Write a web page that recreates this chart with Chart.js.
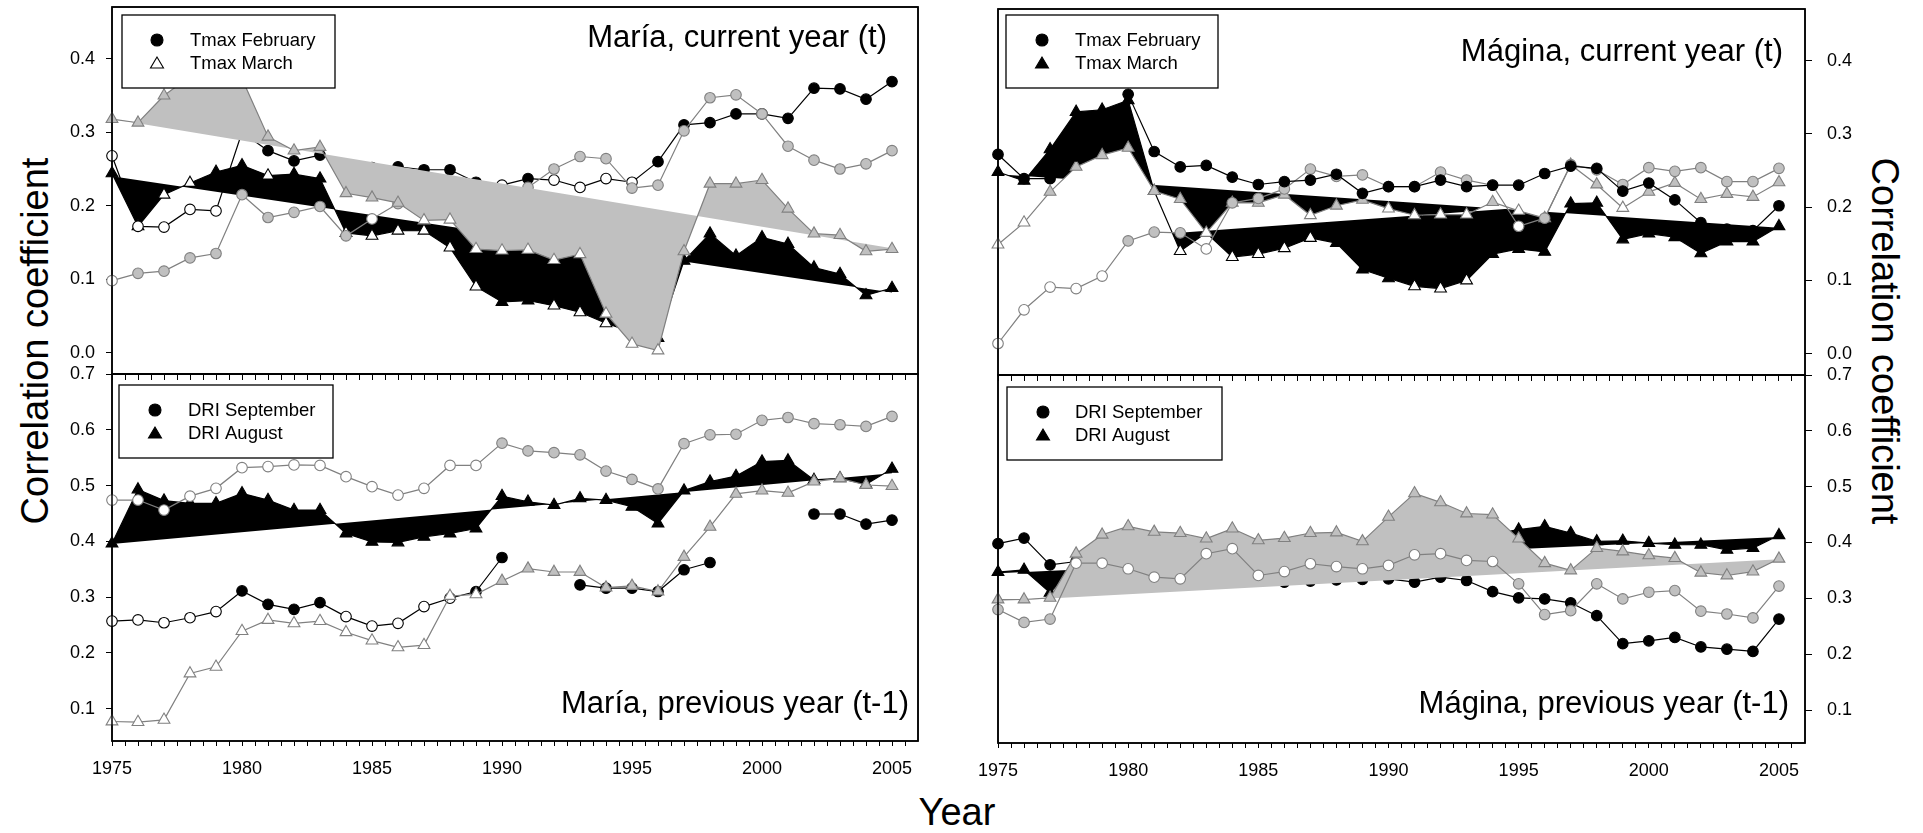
<!DOCTYPE html>
<html>
<head>
<meta charset="utf-8">
<script src="https://cdn.jsdelivr.net/npm/chart.js@4.4.0/dist/chart.umd.min.js"></script>
<style>
  html, body { margin: 0; padding: 0; background: #fff; }
  body { width: 1923px; height: 833px; position: relative; overflow: hidden; font-family: 'Liberation Sans', Arial, sans-serif; }
  canvas { position: absolute; }
  .lab { position: absolute; font-size: 38px; white-space: nowrap; color: #000; }
</style>
</head>
<body>
<div class="lab" style="left:35px;top:341px;transform:translate(-50%,-50%) rotate(-90deg)">Correlation coefficient</div>
<div class="lab" style="left:1884px;top:341px;transform:translate(-50%,-50%) rotate(90deg)">Correlation coefficient</div>
<div class="lab" style="left:957px;top:812px;transform:translate(-50%,-50%)">Year</div>
<script>
const years = [1975, 1976, 1977, 1978, 1979, 1980, 1981, 1982, 1983, 1984, 1985, 1986, 1987, 1988, 1989, 1990,
    1991, 1992, 1993, 1994, 1995, 1996, 1997, 1998, 1999, 2000, 2001, 2002, 2003, 2004, 2005];
const xLabelYears = [1975, 1980, 1985, 1990, 1995, 2000, 2005];
const topTicks = [0.0, 0.1, 0.2, 0.3, 0.4];
const bottomTicks = [0.1, 0.2, 0.3, 0.4, 0.5, 0.6, 0.7];

// series "1" = black markers, series "2" = grey markers; Sig: 1 = filled marker, 0 = open marker
// María, current year (t)
const mariaCurFeb1 = [.268, .172, .171, .195, .193, .300, .275, .261, .269, .256, .252, .253, .249, .249, .232, .228,
    .237, .235, .225, .237, .232, .260, .310, .313, .325, .325, .319, .360, .359, .345, .369];
const mariaCurFeb1Sig = [0, 0, 0, 0, 0, 1, 1, 1, 1, 1, 1, 1, 1, 1, 1, 0, 1, 0, 0, 0, 0, 1, 1, 1, 1, 1, 1, 1, 1, 1, 1];
const mariaCurFeb2 = [.098, .108, .111, .129, .135, .215, .184, .191, .199, .159, .182, .203, .210, .215, .218, .220,
    .225, .250, .267, .264, .224, .228, .302, .347, .351, .325, .281, .262, .250, .257, .275];
const mariaCurFeb2Sig = [0, 1, 1, 1, 1, 1, 1, 1, 1, 1, 0, 1, 1, 1, 1, 1, 1, 1, 1, 1, 1, 1, 1, 1, 1, 1, 1, 1, 1, 1, 1];
const mariaCurMar1 = [.244, .172, .215, .231, .246, .255, .241, .243, .237, .163, .159, .166, .166, .143, .090, .069,
    .071, .064, .055, .040, .028, .020, .125, .162, .132, .157, .148, .116, .107, .078, .088];
const mariaCurMar1Sig = [1, 0, 0, 0, 1, 1, 0, 1, 1, 0, 0, 0, 0, 0, 0, 1, 1, 0, 0, 0, 1, 1, 1, 1, 1, 1, 1, 1, 1, 1, 1];
const mariaCurMar2 = [.318, .313, .350, .376, .390, .373, .294, .275, .280, .217, .211, .204, .180, .181, .141, .139,
    .140, .126, .134, .053, .012, .003, .138, .230, .230, .235, .196, .162, .160, .138, .141];
const mariaCurMar2Sig = [1, 1, 1, 1, 1, 1, 1, 1, 1, 1, 1, 1, 0, 0, 0, 0, 0, 0, 0, 0, 0, 0, 1, 1, 1, 1, 1, 1, 1, 1, 1];
const mariaCurTrend1 = [.240, .082];
const mariaCurTrend2 = [.318, .142];

// María, previous year (t-1)
const mariaPrevSep1 = [.257, .259, .254, .263, .274, .311, .287, .278, .290, .265, .248, .253, .283, .298, .310, .371,
    null, null, .322, .316, .316, .310, .349, .362, null, null, null, .449, .449, .431, .438];
const mariaPrevSep1Sig = [0, 0, 0, 0, 0, 1, 1, 1, 1, 0, 0, 0, 0, 0, 1, 1, 1, 1, 1, 1, 1, 1, 1, 1, 1, 1, 1, 1, 1, 1, 1];
const mariaPrevSep2 = [.474, .474, .456, .481, .495, .532, .534, .537, .536, .516, .498, .483, .495, .536, .536, .576,
    .562, .559, .555, .526, .511, .494, .575, .591, .592, .617, .622, .611, .609, .606, .624];
const mariaPrevSep2Sig = [0, 0, 0, 0, 0, 0, 0, 0, 0, 0, 0, 0, 0, 0, 0, 1, 1, 1, 1, 1, 1, 1, 1, 1, 1, 1, 1, 1, 1, 1, 1];
const mariaPrevAug1 = [.396, .493, .473, .468, .468, .486, .474, .456, .456, .414, .399, .398, .408, .414, .423, .481,
    .471, .465, .477, .474, .462, .432, .491, .507, .517, .543, .545, .510, .513, .502, .530];
const mariaPrevAug1Sig = [1, 1, 1, 1, 1, 1, 1, 1, 1, 1, 1, 1, 1, 1, 1, 1, 1, 1, 1, 1, 1, 1, 1, 1, 1, 1, 1, 1, 1, 1, 1];
const mariaPrevAug2 = [.077, .076, .080, .163, .175, .239, .259, .253, .257, .237, .222, .210, .214, .302, .305, .329,
    .351, .345, .345, .317, .320, .310, .372, .426, .485, .491, .487, .507, .513, .501, .499];
const mariaPrevAug2Sig = [0, 0, 0, 0, 0, 0, 0, 0, 0, 0, 0, 0, 0, 0, 0, 1, 1, 1, 1, 1, 1, 1, 1, 1, 1, 1, 1, 1, 1, 1, 1];
const mariaPrevTrend1 = [.395, .522];

// Mágina, current year (t)
const maginaCurFeb1 = [.272, .239, .239, .270, .300, .354, .276, .255, .257, .241, .231, .235, .237, .245, .219, .228,
    .228, .237, .228, .230, .230, .246, .256, .253, .222, .233, .210, .179, .170, .168, .202];
const maginaCurFeb1Sig = [1, 1, 1, 1, 1, 1, 1, 1, 1, 1, 1, 1, 1, 1, 1, 1, 1, 1, 1, 1, 1, 1, 1, 1, 1, 1, 1, 1, 1, 1, 1];
const maginaCurFeb2 = [.014, .060, .091, .089, .106, .154, .166, .165, .143, .206, .212, .225, .252, .242, .244, .228,
    .228, .248, .237, .230, .174, .185, .258, .251, .231, .254, .249, .254, .235, .235, .253];
const maginaCurFeb2Sig = [0, 0, 0, 0, 0, 1, 1, 1, 0, 1, 1, 1, 1, 1, 1, 1, 1, 1, 1, 1, 0, 1, 1, 1, 1, 1, 1, 1, 1, 1, 1];
const maginaCurMar1 = [.248, .236, .279, .330, .333, .346, .222, .140, .165, .132, .136, .144, .158, .151, .115, .103,
    .092, .089, .100, .136, .143, .139, .205, .206, .156, .164, .159, .137, .153, .153, .174];
const maginaCurMar1Sig = [1, 1, 1, 1, 1, 1, 1, 0, 0, 0, 0, 0, 0, 1, 1, 1, 0, 0, 0, 1, 1, 1, 1, 1, 1, 1, 1, 1, 1, 1, 1];
const maginaCurMar2 = [.149, .179, .221, .255, .271, .281, .222, .211, .165, .206, .206, .217, .189, .202, .210, .198,
    .189, .190, .190, .207, .195, .185, .258, .231, .199, .221, .233, .211, .218, .214, .234];
const maginaCurMar2Sig = [0, 0, 1, 1, 1, 1, 1, 1, 0, 1, 1, 1, 0, 1, 1, 0, 0, 0, 0, 1, 0, 1, 1, 1, 0, 1, 1, 1, 1, 1, 1];
const maginaCurTrend1 = [.245, .172];
const maginaCurTrend2 = [.147, .225];

// Mágina, previous year (t-1)
const maginaPrevSep1 = [.398, .408, .360, .366, .355, .350, .347, .345, .342, .338, .336, .329, .331, .333, .334, .335,
    .329, .338, .332, .312, .301, .299, .292, .269, .219, .224, .230, .213, .209, .205, .263];
const maginaPrevSep1Sig = [1, 1, 1, 1, 1, 1, 1, 1, 1, 1, 1, 1, 1, 1, 1, 1, 1, 1, 1, 1, 1, 1, 1, 1, 1, 1, 1, 1, 1, 1, 1];
const maginaPrevSep2 = [.280, .257, .263, .363, .363, .353, .338, .335, .380, .389, .341, .348, .362, .357, .353, .359,
    .378, .380, .368, .366, .326, .271, .278, .326, .299, .311, .314, .277, .272, .265, .322];
const maginaPrevSep2Sig = [1, 1, 1, 0, 0, 0, 0, 0, 0, 0, 0, 0, 0, 0, 0, 0, 0, 0, 0, 0, 1, 1, 1, 1, 1, 1, 1, 1, 1, 1, 1];
const maginaPrevAug1 = [.347, .351, .310, .360, .370, .375, .370, .370, .370, .375, .370, .375, .380, .380, .380, .390,
    .400, .405, .410, .415, .423, .429, .417, .402, .403, .399, .396, .396, .387, .390, .413];
const maginaPrevAug1Sig = [1, 1, 1, 1, 1, 1, 1, 1, 1, 1, 1, 1, 1, 1, 1, 1, 1, 1, 1, 1, 1, 1, 1, 1, 1, 1, 1, 1, 1, 1, 1];
const maginaPrevAug2 = [.298, .298, .301, .380, .414, .429, .419, .417, .407, .425, .404, .408, .417, .418, .402, .446,
    .488, .472, .452, .450, .407, .363, .350, .390, .384, .377, .372, .346, .341, .348, .371];
const maginaPrevAug2Sig = [1, 1, 1, 1, 1, 1, 1, 1, 1, 1, 1, 1, 1, 1, 1, 1, 1, 1, 1, 1, 1, 1, 1, 1, 1, 1, 1, 1, 1, 1, 1];
const maginaPrevTrend1 = [.345, .410];
const maginaPrevTrend2 = [.295, .370];

const FONT = "'Liberation Sans', Arial, sans-serif";
const GREY_LINE = '#808080';
const GREY_FILL = '#c0c0c0';

const xTicks = [];
for (let t = 1975; t <= 2005.5; t += 0.5) xTicks.push(t);

// area = [left, top, right, bottom] of the plot frame, in page pixels
const panels = [
    {
        area: [112, 7, 918, 374], yLeft: true, xLabels: false, yMin: -0.029, yMax: 0.4705, yTicks: topTicks,
        title: 'María, current year (t)', titleX: 887, titleY: 47,
        legend: { box: [122, 15, 213, 73], symX: 157, rows: [40, 63], textX: 190,
            items: [['Tmax February', 'circle', '#000'], ['Tmax March', 'triangle', '#fff']] },
        circ1: [mariaCurFeb1, mariaCurFeb1Sig], circ2: [mariaCurFeb2, mariaCurFeb2Sig],
        tri1: [mariaCurMar1, mariaCurMar1Sig], tri2: [mariaCurMar2, mariaCurMar2Sig],
        trend1: mariaCurTrend1, trend2: mariaCurTrend2, fill2: GREY_FILL,
        stack: ['tri2', 'circ2', 'circ1', 'tri1'], fillTime: 'beforeDatasetDraw'
    },
    {
        area: [112, 374, 918, 741], yLeft: true, xLabels: true, yMin: 0.042, yMax: 0.700, yTicks: bottomTicks,
        title: 'María, previous year (t-1)', titleX: 909, titleY: 713,
        legend: { box: [119, 385, 214, 73], symX: 155, rows: [410, 433], textX: 188,
            items: [['DRI September', 'circle', '#000'], ['DRI August', 'triangle', '#000']] },
        circ1: [mariaPrevSep1, mariaPrevSep1Sig], circ2: [mariaPrevSep2, mariaPrevSep2Sig],
        tri1: [mariaPrevAug1, mariaPrevAug1Sig], tri2: [mariaPrevAug2, mariaPrevAug2Sig],
        trend1: mariaPrevTrend1, trend2: null, fill2: null,
        stack: ['circ2', 'tri2', 'circ1', 'tri1'], fillTime: 'beforeDatasetDraw'
    },
    {
        area: [998, 9, 1805, 375], yLeft: false, xLabels: false, yMin: -0.029, yMax: 0.4705, yTicks: topTicks,
        title: 'Mágina, current year (t)', titleX: 1783, titleY: 61,
        legend: { box: [1006, 15, 212, 73], symX: 1042, rows: [40, 63], textX: 1075,
            items: [['Tmax February', 'circle', '#000'], ['Tmax March', 'triangle', '#000']] },
        circ1: [maginaCurFeb1, maginaCurFeb1Sig], circ2: [maginaCurFeb2, maginaCurFeb2Sig],
        tri1: [maginaCurMar1, maginaCurMar1Sig], tri2: [maginaCurMar2, maginaCurMar2Sig],
        trend1: maginaCurTrend1, trend2: maginaCurTrend2, fill2: '#ffffff',
        stack: ['circ1', 'circ2', 'tri2', 'tri1'], fillTime: 'beforeDatasetsDraw'
    },
    {
        area: [998, 375, 1805, 743], yLeft: false, xLabels: true, yMin: 0.041, yMax: 0.700, yTicks: bottomTicks,
        title: 'Mágina, previous year (t-1)', titleX: 1789, titleY: 713,
        legend: { box: [1007, 387, 215, 73], symX: 1043, rows: [412, 435], textX: 1075,
            items: [['DRI September', 'circle', '#000'], ['DRI August', 'triangle', '#000']] },
        circ1: [maginaPrevSep1, maginaPrevSep1Sig], circ2: [maginaPrevSep2, maginaPrevSep2Sig],
        tri1: [maginaPrevAug1, maginaPrevAug1Sig], tri2: [maginaPrevAug2, maginaPrevAug2Sig],
        trend1: maginaPrevTrend1, trend2: maginaPrevTrend2, fill2: GREY_FILL,
        stack: ['circ2', 'tri2', 'circ1', 'tri1'], fillTime: 'beforeDatasetDraw'
    }
];

function markerSet(vals, sig, dark, shape) {
    return {
        data: years.map((yr, i) => ({ x: yr, y: vals[i] })),
        borderColor: dark ? '#000' : GREY_LINE,
        borderWidth: 1.2,
        pointStyle: shape,
        pointRadius: shape === 'triangle' ? 6.8 : 5.3,
        pointBorderWidth: 1.1,
        pointBorderColor: dark ? '#000' : GREY_LINE,
        pointBackgroundColor: sig.map(s => s ? (dark ? '#000' : GREY_FILL) : '#fff'),
        pointHoverRadius: 0,
        fill: false,
        spanGaps: false,
        clip: 10,
        tension: 0
    };
}

function trendSet(ends) {
    return {
        data: [{ x: 1975, y: ends[0] }, { x: 2005, y: ends[1] }],
        borderColor: 'rgba(0,0,0,0)',
        borderWidth: 1,
        pointRadius: 0,
        fill: false
    };
}

function drawTriangle(ctx, x, y, fill) {
    ctx.beginPath();
    ctx.moveTo(x, y - 6);
    ctx.lineTo(x - 6.5, y + 5);
    ctx.lineTo(x + 6.5, y + 5);
    ctx.closePath();
    ctx.fillStyle = fill;
    ctx.fill();
    ctx.stroke();
}

const PAD = 30, Y_W = 112;

panels.forEach((p, n) => {
    const [aL, aT, aR, aB] = p.area;
    const xH = p.xLabels ? 45 : 10;
    const padL = p.yLeft ? 0 : 40;
    const padR = p.yLeft ? PAD : 0;
    const left = aL - (p.yLeft ? Y_W : padL);
    const top = aT - PAD;
    const width = aR + (p.yLeft ? padR : Y_W) - left;
    const height = aB + xH + PAD - top;

    const canvas = document.createElement('canvas');
    canvas.width = width;
    canvas.height = height;
    canvas.style.left = left + 'px';
    canvas.style.top = top + 'px';
    document.body.appendChild(canvas);

    const sets = p.stack.map(key => {
        const [vals, sig] = p[key];
        return markerSet(vals, sig, key.endsWith('1'), key.startsWith('tri') ? 'triangle' : 'circle');
    });
    const t1 = sets.length;
    sets.push(trendSet(p.trend1));
    let t2 = -1;
    if (p.trend2) {
        t2 = sets.length;
        sets.push(trendSet(p.trend2));
    }
    p.stack.forEach((key, i) => {
        if (key === 'tri1') {
            sets[i].backgroundColor = '#000';
            sets[i].fill = { target: t1, above: '#000', below: '#000' };
        }
        if (key === 'tri2' && t2 >= 0) {
            sets[i].backgroundColor = p.fill2;
            sets[i].fill = { target: t2, above: p.fill2, below: p.fill2 };
        }
    });

    const decor = {
        id: 'decor' + n,
        beforeDatasetsDraw(chart) {
            const a = chart.chartArea;
            const ctx = chart.ctx;
            ctx.save();
            ctx.strokeStyle = '#000';
            ctx.lineWidth = 1.5;
            ctx.strokeRect(a.left, a.top, a.right - a.left, a.bottom - a.top);
            ctx.restore();
        },
        afterDraw(chart) {
            const ctx = chart.ctx;
            const a = chart.chartArea;
            ctx.save();
            // frame again on top of fills
            ctx.strokeStyle = '#000';
            ctx.lineWidth = 1.5;
            ctx.strokeRect(a.left, a.top, a.right - a.left, a.bottom - a.top);

            ctx.fillStyle = '#000';
            ctx.font = '31px ' + FONT;
            ctx.textAlign = 'right';
            ctx.textBaseline = 'alphabetic';
            ctx.fillText(p.title, p.titleX - left, p.titleY - top);

            const lg = p.legend;
            const [bx, by, bw, bh] = lg.box;
            ctx.fillStyle = '#fff';
            ctx.fillRect(bx - left, by - top, bw, bh);
            ctx.strokeStyle = '#000';
            ctx.lineWidth = 1.3;
            ctx.strokeRect(bx - left, by - top, bw, bh);
            lg.items.forEach(([label, shape, fill], k) => {
                const sx = lg.symX - left, sy = lg.rows[k] - top;
                ctx.lineWidth = 1.1;
                if (shape === 'circle') {
                    ctx.beginPath();
                    ctx.arc(sx, sy, 6, 0, Math.PI * 2);
                    ctx.fillStyle = fill;
                    ctx.fill();
                    ctx.stroke();
                } else {
                    drawTriangle(ctx, sx, sy, fill);
                }
                ctx.fillStyle = '#000';
                ctx.font = '18.5px ' + FONT;
                ctx.textAlign = 'left';
                ctx.textBaseline = 'middle';
                ctx.fillText(label, lg.textX - left, sy + 1);
            });
            ctx.restore();
        }
    };

    new Chart(canvas.getContext('2d'), {
        type: 'line',
        data: { datasets: sets },
        options: {
            responsive: false,
            animation: false,
            events: [],
            layout: { padding: { left: padL, right: padR, top: PAD, bottom: PAD } },
            plugins: {
                legend: { display: false },
                tooltip: { enabled: false },
                filler: { drawTime: p.fillTime, propagate: false }
            },
            scales: {
                x: {
                    type: 'linear',
                    position: 'bottom',
                    min: 1975,
                    max: 2006,
                    afterBuildTicks: s => { s.ticks = xTicks.map(v => ({ value: v })); },
                    afterFit: s => { s.height = xH; },
                    ticks: {
                        autoSkip: false,
                        maxRotation: 0,
                        minRotation: 0,
                        padding: 12,
                        color: '#000',
                        font: { size: 18, family: FONT },
                        callback: v => (p.xLabels && xLabelYears.includes(v)) ? String(v) : ''
                    },
                    grid: { display: true, drawOnChartArea: false, drawTicks: true, tickLength: p.xLabels ? 5 : 6, color: '#000', lineWidth: 1 },
                    border: { display: false }
                },
                y: {
                    type: 'linear',
                    position: p.yLeft ? 'left' : 'right',
                    min: p.yMin,
                    max: p.yMax,
                    afterBuildTicks: s => { s.ticks = p.yTicks.map(v => ({ value: v })); },
                    afterFit: s => { s.width = Y_W; },
                    ticks: {
                        padding: p.yLeft ? 11 : 15,
                        color: '#000',
                        font: { size: 18, family: FONT },
                        callback: v => v.toFixed(1)
                    },
                    grid: { display: true, drawOnChartArea: false, drawTicks: true, tickLength: p.yLeft ? 6 : 7, color: '#000', lineWidth: 1 },
                    border: { display: false }
                }
            }
        },
        plugins: [decor]
    });
});
</script>
</body>
</html>
